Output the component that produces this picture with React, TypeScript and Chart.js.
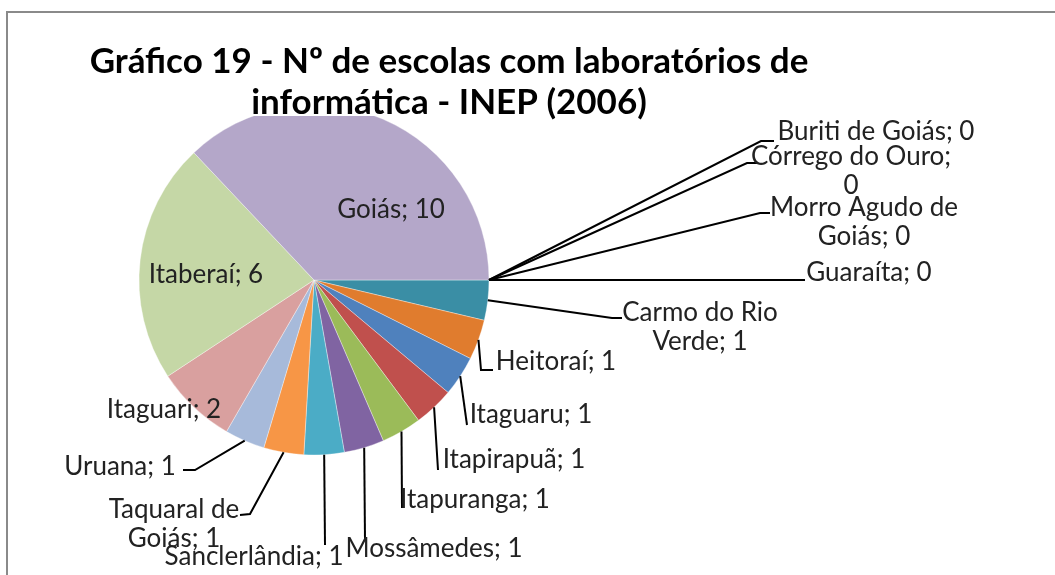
import React, { useEffect, useRef } from "react";
import { Chart, registerables } from "chart.js";

Chart.register(...registerables);

// ---- data ----
const categories = [
  "Buriti de Goiás",
  "Córrego do Ouro",
  "Morro Agudo de Goiás",
  "Guaraíta",
  "Carmo do Rio Verde",
  "Heitoraí",
  "Itaguaru",
  "Itapirapuã",
  "Itapuranga",
  "Mossâmedes",
  "Sanclerlândia",
  "Taquaral de Goiás",
  "Uruana",
  "Itaguari",
  "Itaberaí",
  "Goiás",
];
const values = [0, 0, 0, 0, 1, 1, 1, 1, 1, 1, 1, 1, 1, 2, 6, 10];
const titleLines = ["Gráfico 19 - Nº de escolas com laboratórios de", "informática - INEP (2006)"];

// ---- styles ----
const colors = [
  "#4F81BD", "#C0504D", "#9BBB59", "#8064A2",
  "#3A8EA5", "#E07C2E", "#4F81BD", "#C0504D",
  "#9BBB59", "#8064A2", "#4BACC6", "#F79646",
  "#A7BADA", "#D9A09F", "#C5D7A6", "#B4A7C9",
];

// label layout: text lines (from category + value), block centre, leader path after arc point
type LabelLayout = { lines: string[]; cx: number; cy: number; lh?: number; leader?: number[][] };
const fmt = (i: number) => `${categories[i]}; ${values[i]}`;
const labelLayout: LabelLayout[] = [
  { lines: [fmt(0)], cx: 876, cy: 132, leader: [[761, 141], [774, 141]] },
  { lines: ["Córrego do Ouro;", String(values[1])], cx: 851, cy: 157, leader: [[747, 163], [757, 163]] },
  { lines: ["Morro Agudo de", `Goiás; ${values[2]}`], cx: 864, cy: 208, leader: [[760, 213], [770, 213]] },
  { lines: [fmt(3)], cx: 869, cy: 273, leader: [[805, 280]] },
  { lines: ["Carmo do Rio", `Verde; ${values[4]}`], cx: 700, cy: 313, leader: [[612, 318], [622, 318]] },
  { lines: [fmt(5)], cx: 556, cy: 362, leader: [[481, 370], [493, 370]] },
  { lines: [fmt(6)], cx: 531, cy: 415, leader: [[467, 425]] },
  { lines: [fmt(7)], cx: 514, cy: 460, leader: [[438, 470]] },
  { lines: [fmt(8)], cx: 475, cy: 500, leader: [[402, 508]] },
  { lines: [fmt(9)], cx: 434, cy: 549, leader: [[365, 540]] },
  { lines: [fmt(10)], cx: 254, cy: 557, leader: [[325, 545]] },
  { lines: ["Taquaral de", `Goiás; ${values[11]}`], cx: 174, cy: 510, leader: [[250, 514], [240, 515]] },
  { lines: [fmt(12)], cx: 120, cy: 467, leader: [[195, 470], [183, 470]] },
  { lines: [fmt(13)], cx: 164, cy: 410 },
  { lines: [fmt(14)], cx: 206, cy: 275 },
  { lines: [fmt(15)], cx: 391, cy: 210 },
];

const FONT = "Lato, 'Open Sans', sans-serif";

const decorPlugin = {
  id: "decor",
  beforeDraw(chart: any) {
    const ctx = chart.ctx;
    ctx.save();
    ctx.fillStyle = "#ffffff";
    ctx.fillRect(0, 0, chart.width, chart.height);
    ctx.strokeStyle = "#8a8a8a";
    ctx.lineWidth = 2;
    ctx.beginPath();
    ctx.moveTo(7, chart.height);
    ctx.lineTo(7, 12);
    ctx.lineTo(chart.width, 12);
    ctx.stroke();
    ctx.restore();
  },
  afterDraw(chart: any) {
    const ctx = chart.ctx;
    const meta = chart.getDatasetMeta(0);
    ctx.save();
    // leader lines
    ctx.strokeStyle = "#000";
    ctx.lineWidth = 2;
    meta.data.forEach((arc: any, i: number) => {
      const lay = labelLayout[i];
      if (!lay || !lay.leader) return;
      const p = arc.getProps(["x", "y", "startAngle", "endAngle", "outerRadius"], true);
      const mid = (p.startAngle + p.endAngle) / 2;
      const sx = p.x + Math.cos(mid) * p.outerRadius;
      const sy = p.y + Math.sin(mid) * p.outerRadius;
      ctx.beginPath();
      ctx.moveTo(sx, sy);
      lay.leader.forEach((pt) => ctx.lineTo(pt[0], pt[1]));
      ctx.stroke();
    });
    // labels
    ctx.fillStyle = "#222";
    ctx.font = `26px ${FONT}`;
    ctx.textAlign = "center";
    ctx.textBaseline = "middle";
    labelLayout.forEach((lay) => {
      lay.lines.forEach((ln, k) => {
        ctx.fillText(ln, lay.cx, lay.cy + k * (lay.lh ?? 29));
      });
    });
    // title
    ctx.font = `bold 35px ${FONT}`;
    ctx.fillStyle = "#ffffff";
    const w2 = ctx.measureText(titleLines[1]).width;
    ctx.fillRect(449 - w2 / 2 - 4, 87, w2 + 8, 29);
    ctx.fillStyle = "#000";
    ctx.fillText(titleLines[0], 449, 62);
    ctx.fillText(titleLines[1], 449, 103);
    ctx.restore();
  },
};

export default function App() {
  const ref = useRef<HTMLCanvasElement | null>(null);
  useEffect(() => {
    document.body.style.margin = "0";
    const canvas = ref.current!;
    const chart = new Chart(canvas, {
      type: "pie",
      data: {
        labels: categories,
        datasets: [
          {
            data: values,
            backgroundColor: colors,
            borderColor: "rgba(255,255,255,0.6)",
            borderWidth: 0.6,
            hoverOffset: 0,
          },
        ],
      },
      options: {
        animation: false,
        responsive: false,
        rotation: 90,
        radius: 175,
        layout: { padding: { left: 139, right: 566, top: 105, bottom: 120 } },
        plugins: {
          legend: { display: false },
          title: { display: false },
          tooltip: { enabled: false },
        },
        events: [],
      },
      plugins: [decorPlugin],
    });
    return () => chart.destroy();
  }, []);
  return (
    <div style={{ width: 1055, height: 575 }}>
      <canvas ref={ref} width={1055} height={575} style={{ display: "block" }} />
    </div>
  );
}
